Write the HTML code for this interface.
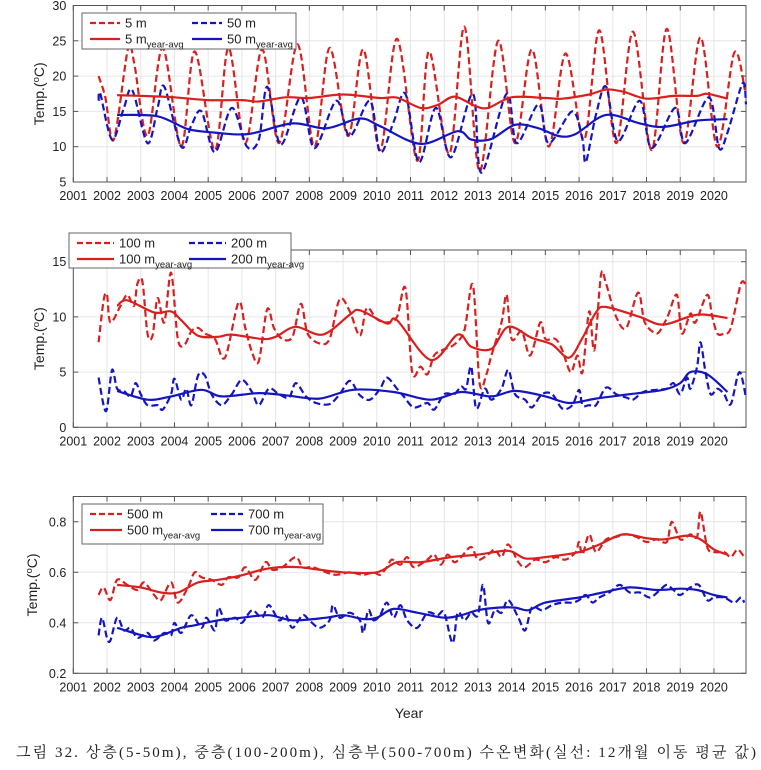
<!DOCTYPE html>
<html><head><meta charset="utf-8"><style>
body{margin:0;background:#fff;width:761px;height:770px;overflow:hidden}
svg{display:block;font-family:"Liberation Sans",Arial,sans-serif}
</style></head><body>
<svg id="chart" width="761" height="770" viewBox="0 0 761 770">
<text x="386" y="757" text-anchor="middle" font-size="15" textLength="740" font-family="'Liberation Serif','Noto Serif CJK KR','Noto Serif CJK SC',serif" fill="#222">그림 32. 상층(5-50m), 중층(100-200m), 심층부(500-700m) 수온변화(실선: 12개월 이동 평균 값)</text>
</svg>
<script>
// ---- data ----
const years = [2001,2002,2003,2004,2005,2006,2007,2008,2009,2010,2011,2012,2013,2014,2015,2016,2017,2018,2019,2020];
const p1Ticks = [5,10,15,20,25,30];
const p2Ticks = [0,5,10,15];
const p3Ticks = [0.2,0.4,0.6,0.8];
const s5m = [[2001.75,20],[2001.95,17],[2002.2,11],[2002.62,23.8],[2002.8,22],[2003.2,11.5],[2003.65,24],[2004.2,10],[2004.6,23.5],[2005.2,9.5],[2005.6,24],[2006.1,10.5],[2006.6,23.8],[2007.1,10.5],[2007.65,24.5],[2008.15,10],[2008.6,24],[2009.15,11.5],[2009.6,23.8],[2010.1,9.5],[2010.6,25.3],[2011.2,8],[2011.55,23.5],[2012.15,9],[2012.6,27],[2013.05,6.5],[2013.6,25],[2014.1,10.5],[2014.6,23.8],[2015.1,10],[2015.6,23.2],[2016.15,11],[2016.6,26.5],[2017.1,10.5],[2017.6,26.3],[2018.15,9.5],[2018.6,26.7],[2019.1,10.5],[2019.6,25.5],[2020.1,10],[2020.6,23.3],[2020.92,18]];
const s50m = [[2001.75,16.5],[2001.8,17.5],[2002.15,11],[2002.5,15.5],[2002.75,18],[2003.2,10.5],[2003.5,15.5],[2003.7,18.5],[2004.2,10],[2004.5,13],[2004.8,15],[2005.2,9.2],[2005.7,15.5],[2006.15,10],[2006.5,11],[2006.75,18.5],[2007.15,10.3],[2007.75,17],[2008.15,9.8],[2008.8,16.5],[2009.2,11.5],[2009.8,16.5],[2010.1,9.2],[2010.5,13.5],[2010.85,17.5],[2011.25,7.8],[2011.75,15.5],[2012.2,8.5],[2012.85,17.5],[2013.1,6.3],[2013.85,17.5],[2014.15,10.5],[2014.8,16],[2015.1,10.5],[2015.8,15],[2016.1,11],[2016.2,7.8],[2016.5,14.5],[2016.8,18.5],[2017.15,10.8],[2017.8,16.5],[2018.15,9.8],[2018.85,15.5],[2019.15,10.5],[2019.85,17],[2020.15,9.8],[2020.4,12],[2020.85,19],[2020.95,16]];
const a5m = [[2002.3,17.3],[2003.0,17.2],[2004.0,17.0],[2005.0,16.6],[2006.0,16.6],[2006.5,16.4],[2007.3,17.0],[2008.0,16.9],[2009.0,17.4],[2010.1,16.9],[2010.6,16.95],[2011.3,15.5],[2011.8,15.9],[2012.3,17.1],[2012.9,15.8],[2013.3,15.5],[2014.0,17.0],[2015.0,16.9],[2015.5,16.8],[2016.3,17.4],[2016.8,18.1],[2017.3,17.8],[2018.0,16.8],[2018.8,17.2],[2019.5,17.2],[2019.8,17.5],[2020.4,16.8]];
const a50m = [[2002.3,14.5],[2003.5,14.3],[2004.4,12.5],[2005.2,12.0],[2006.2,11.8],[2007.5,13.3],[2008.5,12.6],[2009.5,14.0],[2010.1,12.9],[2011.3,10.4],[2012.4,12.2],[2012.8,11.0],[2013.4,11.1],[2014.1,13.1],[2014.8,12.6],[2015.4,11.5],[2015.9,11.8],[2016.8,14.5],[2017.8,13.3],[2018.5,12.8],[2019.5,13.7],[2020.4,13.9]];
const s100m = [[2001.75,7.7],[2001.9,11.5],[2002.0,12],[2002.1,9.5],[2002.4,11],[2002.6,12],[2002.8,11],[2002.9,13],[2003.05,13.2],[2003.2,8.5],[2003.35,8.3],[2003.5,11.7],[2003.7,9.5],[2003.9,14],[2004.1,8],[2004.3,7.5],[2004.5,8.7],[2004.7,9],[2004.9,8.5],[2005.2,8],[2005.5,6.3],[2005.9,11.3],[2006.1,9],[2006.3,6.8],[2006.5,6],[2006.75,10.7],[2006.95,9],[2007.2,8],[2007.5,8.2],[2007.75,11.2],[2007.95,8.5],[2008.3,7.6],[2008.6,8],[2008.9,11.6],[2009.2,10.5],[2009.5,8.3],[2009.7,10.8],[2010.0,9.8],[2010.3,9.5],[2010.6,10],[2010.85,12.6],[2011.05,5],[2011.3,5.5],[2011.5,4.8],[2011.7,6.5],[2011.95,7],[2012.3,7.5],[2012.6,8.8],[2012.85,12.9],[2013.05,4],[2013.25,4.8],[2013.4,6.5],[2013.7,9.5],[2013.85,12],[2014.0,8],[2014.3,8.7],[2014.55,6.5],[2014.85,9.5],[2015.0,8],[2015.3,8],[2015.5,7],[2015.75,5],[2015.95,6.5],[2016.1,5],[2016.3,10.5],[2016.45,7],[2016.65,13.8],[2016.8,13],[2017.1,10],[2017.4,9],[2017.75,12.2],[2017.95,9.5],[2018.3,8.5],[2018.5,9.3],[2018.65,10.2],[2018.9,12],[2019.05,8.5],[2019.3,10.3],[2019.45,9.5],[2019.8,12],[2019.95,10],[2020.1,8.5],[2020.3,8.5],[2020.5,9],[2020.8,13],[2020.95,12.8]];
const a100m = [[2002.3,11],[2002.6,11.5],[2003.4,10.4],[2003.9,10.5],[2004.2,9.7],[2004.7,8.3],[2005.3,8.2],[2005.7,8.4],[2006.6,8.0],[2007.0,8.2],[2007.6,9.1],[2008.4,8.4],[2009.2,10.2],[2009.5,10.6],[2010.3,9.4],[2010.6,9.7],[2011.6,6.1],[2012.4,8.4],[2012.8,7.3],[2013.4,7.1],[2013.9,9.1],[2014.6,8.1],[2015.2,7.5],[2015.7,6.3],[2016.1,8.1],[2016.5,10.4],[2016.8,10.9],[2017.8,10.0],[2018.5,9.3],[2019.5,10.2],[2020.4,9.9]];
const s200m = [[2001.75,4.5],[2001.9,2],[2002.0,1.7],[2002.15,5.2],[2002.3,3.5],[2002.5,3.3],[2002.7,2.8],[2002.85,4],[2003.0,3],[2003.2,2],[2003.5,2],[2003.65,1.6],[2003.9,3],[2004.0,4.4],[2004.2,2.5],[2004.35,3.5],[2004.5,2],[2004.7,4.7],[2004.9,4.7],[2005.1,3],[2005.4,2],[2005.7,3],[2006.0,4.3],[2006.3,3.2],[2006.5,2],[2006.8,3.5],[2007.1,3],[2007.4,2.7],[2007.6,4],[2007.9,2.8],[2008.2,2.2],[2008.6,2.1],[2008.9,3],[2009.2,4.2],[2009.5,2.9],[2009.8,2.5],[2010.1,3.5],[2010.3,4.5],[2010.6,3.5],[2010.8,2.8],[2011.1,1.8],[2011.5,2.2],[2011.7,1.6],[2012.0,3],[2012.3,3],[2012.5,3.7],[2012.65,3.5],[2012.8,5.5],[2012.95,1.7],[2013.2,3.5],[2013.4,2.5],[2013.7,3.5],[2013.9,5.2],[2014.1,3],[2014.4,2.5],[2014.6,1.8],[2014.9,3],[2015.2,3],[2015.5,1.7],[2015.8,2],[2016.0,3.4],[2016.1,2],[2016.3,2],[2016.5,2],[2016.8,3.6],[2017.1,3],[2017.4,2.7],[2017.6,2.5],[2017.9,3.2],[2018.3,3.4],[2018.6,3.5],[2018.8,4],[2019.0,3],[2019.2,4.5],[2019.3,3.5],[2019.5,5.5],[2019.6,7.7],[2019.75,5],[2019.9,3],[2020.1,3.5],[2020.3,3],[2020.5,2.1],[2020.75,5],[2020.95,2.7]];
const a200m = [[2002.3,3.3],[2003.2,2.5],[2003.9,2.8],[2004.8,3.4],[2005.4,2.8],[2006.5,3.1],[2007.3,2.9],[2008.3,2.6],[2009.3,3.4],[2010.5,3.2],[2011.6,2.5],[2012.5,3.2],[2013.4,2.8],[2014.1,3.3],[2015.0,2.8],[2015.7,2.2],[2016.5,2.6],[2017.5,3.0],[2018.5,3.4],[2019.0,4.0],[2019.3,5.0],[2019.8,4.8],[2020.4,3.2]];
const s500m = [[2001.75,0.51],[2001.9,0.54],[2002.1,0.49],[2002.3,0.57],[2002.6,0.55],[2002.9,0.53],[2003.1,0.56],[2003.4,0.51],[2003.6,0.49],[2003.9,0.56],[2004.1,0.48],[2004.4,0.54],[2004.6,0.6],[2004.8,0.58],[2005.1,0.57],[2005.4,0.55],[2005.6,0.58],[2005.9,0.58],[2006.1,0.62],[2006.4,0.57],[2006.7,0.64],[2006.9,0.61],[2007.2,0.62],[2007.6,0.66],[2007.8,0.62],[2008.1,0.62],[2008.5,0.6],[2008.8,0.59],[2009.2,0.6],[2009.6,0.59],[2009.9,0.6],[2010.1,0.59],[2010.3,0.62],[2010.45,0.65],[2010.7,0.63],[2010.9,0.66],[2011.1,0.62],[2011.5,0.65],[2011.7,0.67],[2011.9,0.63],[2012.1,0.67],[2012.3,0.64],[2012.5,0.66],[2012.8,0.7],[2013.0,0.65],[2013.3,0.67],[2013.5,0.69],[2013.7,0.66],[2013.9,0.71],[2014.2,0.64],[2014.4,0.62],[2014.7,0.65],[2015.0,0.64],[2015.3,0.66],[2015.6,0.65],[2015.9,0.68],[2016.0,0.72],[2016.1,0.67],[2016.3,0.75],[2016.5,0.68],[2016.8,0.73],[2017.1,0.74],[2017.4,0.75],[2017.7,0.74],[2018.0,0.72],[2018.3,0.73],[2018.6,0.72],[2018.75,0.8],[2019.0,0.73],[2019.3,0.75],[2019.5,0.74],[2019.6,0.84],[2019.8,0.7],[2020.0,0.68],[2020.3,0.68],[2020.5,0.66],[2020.7,0.69],[2020.9,0.66]];
const a500m = [[2002.3,0.55],[2003.0,0.54],[2003.6,0.52],[2004.1,0.52],[2004.7,0.56],[2005.3,0.57],[2005.9,0.585],[2006.6,0.61],[2007.1,0.62],[2007.7,0.62],[2008.3,0.61],[2009.0,0.6],[2010.0,0.6],[2010.6,0.64],[2011.3,0.64],[2012.2,0.66],[2013.0,0.67],[2013.9,0.685],[2014.4,0.655],[2015.0,0.66],[2016.0,0.68],[2016.6,0.71],[2017.3,0.75],[2018.0,0.735],[2018.5,0.73],[2019.2,0.745],[2019.6,0.73],[2020.0,0.69],[2020.4,0.67]];
const s700m = [[2001.75,0.35],[2001.85,0.42],[2002.0,0.34],[2002.1,0.33],[2002.3,0.42],[2002.5,0.37],[2002.7,0.38],[2002.9,0.34],[2003.2,0.36],[2003.4,0.33],[2003.7,0.36],[2003.9,0.35],[2004.0,0.4],[2004.2,0.36],[2004.5,0.43],[2004.8,0.38],[2004.95,0.42],[2005.2,0.37],[2005.3,0.46],[2005.5,0.41],[2005.8,0.42],[2006.0,0.4],[2006.3,0.45],[2006.6,0.42],[2006.8,0.47],[2007.1,0.41],[2007.3,0.43],[2007.5,0.38],[2007.8,0.43],[2008.0,0.41],[2008.3,0.38],[2008.6,0.41],[2008.7,0.47],[2008.9,0.42],[2009.2,0.44],[2009.5,0.41],[2009.6,0.36],[2009.75,0.45],[2009.9,0.41],[2010.1,0.43],[2010.3,0.48],[2010.5,0.42],[2010.7,0.47],[2010.9,0.41],[2011.2,0.38],[2011.5,0.44],[2011.8,0.43],[2012.0,0.44],[2012.25,0.32],[2012.4,0.44],[2012.6,0.41],[2012.8,0.44],[2013.0,0.43],[2013.15,0.55],[2013.3,0.4],[2013.5,0.45],[2013.7,0.44],[2013.9,0.49],[2014.2,0.42],[2014.4,0.37],[2014.6,0.46],[2014.9,0.45],[2015.2,0.47],[2015.5,0.48],[2015.8,0.48],[2016.0,0.49],[2016.2,0.51],[2016.4,0.48],[2016.6,0.5],[2016.9,0.52],[2017.2,0.55],[2017.5,0.52],[2017.8,0.52],[2018.1,0.5],[2018.4,0.53],[2018.6,0.55],[2018.8,0.53],[2019.0,0.51],[2019.3,0.54],[2019.55,0.55],[2019.8,0.49],[2020.0,0.5],[2020.3,0.5],[2020.6,0.48],[2020.8,0.5],[2020.9,0.48]];
const a700m = [[2002.3,0.38],[2003.2,0.345],[2003.6,0.35],[2004.2,0.38],[2004.6,0.39],[2005.3,0.41],[2006.0,0.42],[2006.8,0.43],[2007.5,0.41],[2008.5,0.42],[2009.0,0.43],[2009.6,0.415],[2010.0,0.42],[2010.5,0.455],[2011.2,0.44],[2012.0,0.42],[2012.5,0.43],[2013.0,0.45],[2013.6,0.46],[2014.1,0.46],[2014.5,0.45],[2015.0,0.48],[2016.0,0.5],[2016.7,0.52],[2017.5,0.54],[2018.3,0.53],[2019.0,0.535],[2019.5,0.53],[2020.0,0.51],[2020.4,0.5]];

const NS = "http://www.w3.org/2000/svg";
const svg = document.getElementById('chart');
const RED = "#d8211f", BLUE = "#1515c0";
const X0 = 73.3, X1 = 746, T0 = 2001, T1 = 2020.95;
function xs(t){ return X0 + (t - T0) * (X1 - X0) / (T1 - T0); }
function mk(tag, attrs, parent){ const e = document.createElementNS(NS, tag); for (const k in attrs) e.setAttribute(k, attrs[k]); (parent||svg).appendChild(e); return e; }
function smoothPath(pts){
  let d = 'M' + pts[0][0].toFixed(1) + ',' + pts[0][1].toFixed(1);
  for (let i = 0; i < pts.length - 1; i++){
    const p0 = pts[Math.max(0,i-1)], p1 = pts[i], p2 = pts[i+1], p3 = pts[Math.min(pts.length-1,i+2)];
    const k = 0.16;
    const c1x = p1[0] + (p2[0]-p0[0])*k, c1y = p1[1] + (p2[1]-p0[1])*k;
    const c2x = p2[0] - (p3[0]-p1[0])*k, c2y = p2[1] - (p3[1]-p1[1])*k;
    d += ` C${c1x.toFixed(1)},${c1y.toFixed(1)} ${c2x.toFixed(1)},${c2y.toFixed(1)} ${p2[0].toFixed(1)},${p2[1].toFixed(1)}`;
  }
  return d;
}

function panel(cfg){
  const g = mk('g', {});
  
  
  const ys = v => cfg.bot - (v - cfg.vmin) * (cfg.bot - cfg.top) / (cfg.vmax - cfg.vmin);
  years.forEach(y => { mk('line', {x1:xs(y), x2:xs(y), y1:cfg.top, y2:cfg.bot, stroke:'#e6e6e6', 'stroke-width':1}, g); });
  cfg.ticks.forEach(v => { mk('line', {x1:X0, x2:X1, y1:ys(v), y2:ys(v), stroke:'#e6e6e6', 'stroke-width':1}, g); });
  const fr = mk('rect', {x:X0, y:cfg.top, width:X1-X0, height:cfg.bot-cfg.top, fill:'none', stroke:'#555', 'stroke-width':1}, g);
  
  
  years.forEach(y => {
    mk('line', {x1:xs(y), x2:xs(y), y1:cfg.bot, y2:cfg.bot-5, stroke:'#555'}, g);
    mk('line', {x1:xs(y), x2:xs(y), y1:cfg.top, y2:cfg.top+5, stroke:'#555'}, g);
    const t = mk('text', {x:xs(y), y:cfg.bot+18, 'text-anchor':'middle', 'font-size':12.5, fill:'#222'}, g);
    t.textContent = y;
    
    
  });
  cfg.ticks.forEach(v => {
    mk('line', {x1:X0, x2:X0+5, y1:ys(v), y2:ys(v), stroke:'#555'}, g);
    mk('line', {x1:X1, x2:X1-5, y1:ys(v), y2:ys(v), stroke:'#555'}, g);
    const t = mk('text', {x:X0-7, y:ys(v)+4.5, 'text-anchor':'end', 'font-size':12.5, fill:'#222'}, g);
    t.textContent = cfg.fmt(v);
    
    
  });
  const yl = mk('text', {transform:`translate(${cfg.ylx},${(cfg.top+cfg.bot)/2}) rotate(-90)`, 'text-anchor':'middle', 'font-size':14, fill:'#222'}, g);
  yl.innerHTML = 'Temp.(<tspan dy="-5" font-size="9.5">o</tspan><tspan dy="5">C)</tspan>';
  
  
  cfg.series.forEach(s => {
    const pts = s.data.map(p => [xs(p[0]), ys(p[1])]);
    const a = {d:smoothPath(pts), fill:'none', stroke:s.color, 'stroke-width':2.2, 'stroke-linejoin':'round'};
    if (s.dash) a['stroke-dasharray'] = '7,3.5';
    const p = mk('path', a, g);
    
    
  });
  const L = cfg.leg;
  const lg = mk('g', {}, g);
  
  
  mk('rect', {x:L.x, y:L.y, width:L.w, height:L.h, fill:'#fff', stroke:'#666', 'stroke-width':1}, lg);
  L.items.forEach((it, i) => {
    const col = i % 2, row = Math.floor(i / 2);
    const bx = L.x + 8 + col * L.cw, by = L.y + 10 + row * 16;
    const la = {x1:bx, x2:bx+L.lw, y1:by, y2:by, stroke:it.color, 'stroke-width':2.2};
    if (it.dash) la['stroke-dasharray'] = '6,3';
    mk('line', la, lg);
    const t = mk('text', {x:bx+L.lw+5, y:by+4.5, 'font-size':13, fill:'#222'}, lg);
    t.innerHTML = it.sub ? it.label + '<tspan dy="4" font-size="9.5">year-avg</tspan>' : it.label;
    
    
  });
}

function items(a, b){ return [
  {label:a+' m', color:RED, dash:true},{label:b+' m', color:BLUE, dash:true},
  {label:a+' m', color:RED, sub:true},{label:b+' m', color:BLUE, sub:true}]; }

panel({name:'panel-upper', top:5.5, bot:182, vmin:5, vmax:30, ticks:p1Ticks, fmt:v=>v, ylx:44,
  series:[{id:'series-5m',data:s5m,color:RED,dash:true},{id:'series-50m',data:s50m,color:BLUE,dash:true},{id:'avg-5m',data:a5m,color:RED},{id:'avg-50m',data:a50m,color:BLUE}],
  leg:{x:82, y:13, w:214, h:36, cw:102, lw:30, items:items(5,50)}});
panel({name:'panel-middle', top:250, bot:427.3, vmin:0, vmax:16.06, ticks:p2Ticks, fmt:v=>v, ylx:44,
  series:[{id:'series-100m',data:s100m,color:RED,dash:true},{id:'series-200m',data:s200m,color:BLUE,dash:true},{id:'avg-100m',data:a100m,color:RED},{id:'avg-200m',data:a200m,color:BLUE}],
  leg:{x:69, y:233, w:222, h:35, cw:112, lw:37, items:items(100,200)}});
panel({name:'panel-deep', top:496.5, bot:673.3, vmin:0.2, vmax:0.9, ticks:p3Ticks, fmt:v=>v.toFixed(1), ylx:37,
  series:[{id:'series-500m',data:s500m,color:RED,dash:true},{id:'series-700m',data:s700m,color:BLUE,dash:true},{id:'avg-500m',data:a500m,color:RED},{id:'avg-700m',data:a700m,color:BLUE}],
  leg:{x:82, y:504, w:241, h:40, cw:121, lw:32, items:items(500,700)}});

const xt = mk('text', {x:409, y:718, 'text-anchor':'middle', 'font-size':14, fill:'#222'});
xt.textContent = 'Year';


</script>
</body></html>
